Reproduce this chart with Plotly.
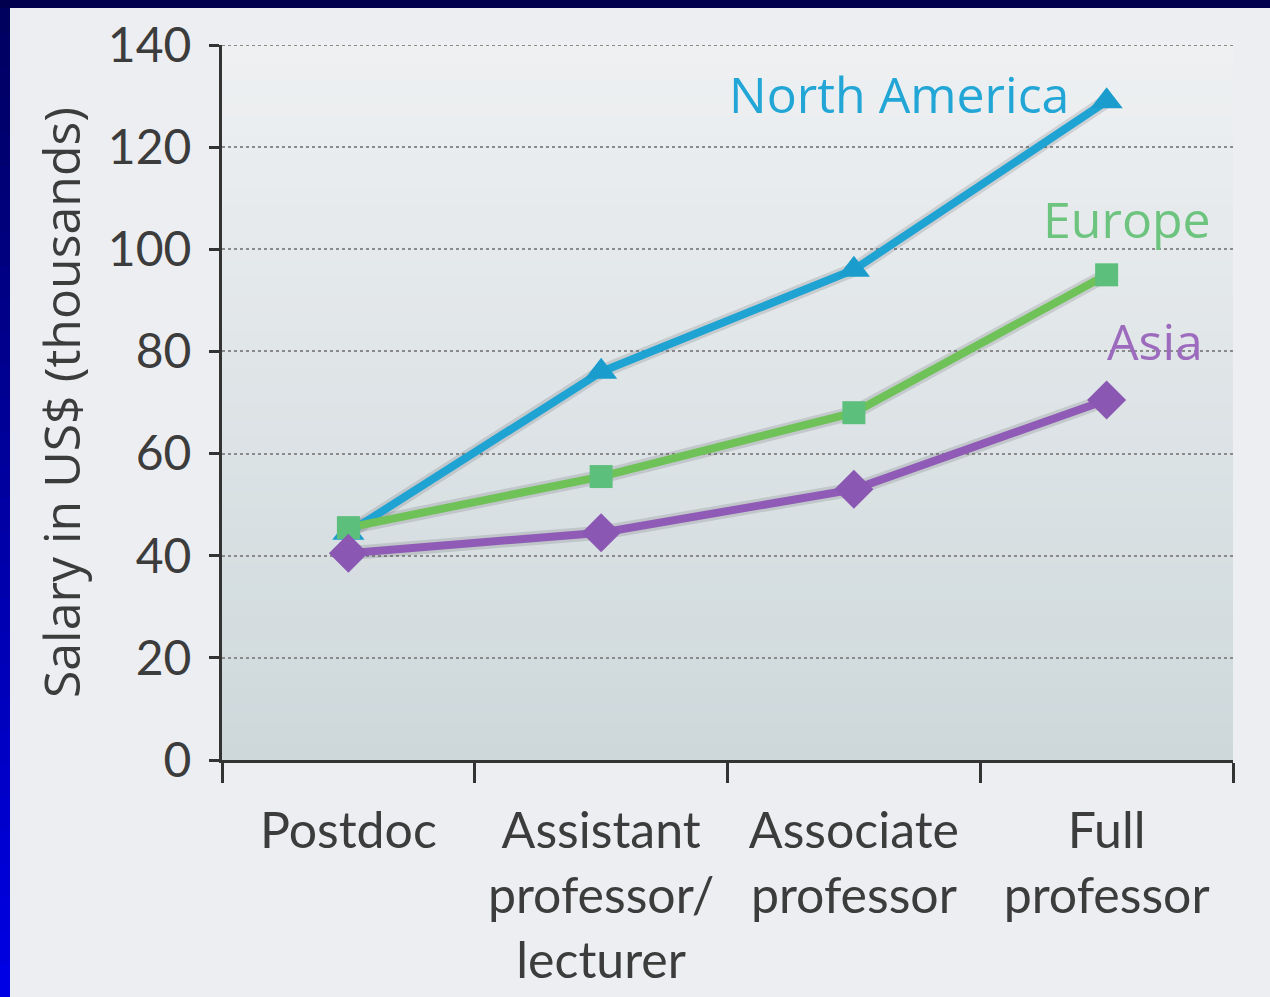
import plotly.graph_objects as go

categories = ["Postdoc", "Assistant<br>professor/<br>lecturer", "Associate<br>professor", "Full<br>professor"]
north_america = [44.5, 76, 96, 129]
europe = [45.5, 55.5, 68, 95]
asia = [40.5, 44.5, 53, 70.5]
y_ticks = [0, 20, 40, 60, 80, 100, 120, 140]

FONT = "Lato"
FONT2 = "Open Sans"
fig = go.Figure()

series = [
    ("North America", north_america, "#1ea3d3", "#1a9ccd", "triangle-up", 28),
    ("Europe", europe, "#6fc257", "#5dbf7c", "square", 23),
    ("Asia", asia, "#8f5bb6", "#8a57b3", "diamond", 30),
]
for name, vals, lc, mc, sym, ms in series:
    fig.add_trace(go.Scatter(x=categories, y=vals, mode="lines", showlegend=False,
                             line=dict(color="rgba(60,60,70,0.16)", width=14), hoverinfo="skip"))
for name, vals, lc, mc, sym, ms in series:
    fig.add_trace(go.Scatter(x=categories, y=vals, mode="lines+markers", name=name, showlegend=False,
                             line=dict(color=lc, width=8),
                             marker=dict(symbol=sym, size=ms, color=mc, line=dict(width=0))))

# background gradient of plot area
shapes = []
N = 40
top = (238, 240, 242)
bot = (206, 216, 219)
for i in range(N):
    t = i / (N - 1)
    c = tuple(int(round(bot[k] + (top[k] - bot[k]) * t)) for k in range(3))
    shapes.append(dict(type="rect", xref="paper", yref="paper", x0=0, x1=1,
                       y0=i / N, y1=(i + 1) / N + 0.002, line=dict(width=0),
                       fillcolor="rgb(%d,%d,%d)" % c, layer="below"))
# top gridline (at range edge)
shapes.append(dict(type="line", xref="paper", yref="y", x0=0, x1=1, y0=y_ticks[-1], y1=y_ticks[-1],
                   line=dict(color="#8a8a8a", width=2, dash="dot"), layer="below"))
# frame
W, H = 1270, 997
l, r, t, b = 222, 37, 45, 237
pw, ph = W - l - r, H - t - b
def px(x):
    return (x - l) / pw
def py(y):
    return 1 - (y - t) / ph
NB = 30
for i in range(NB):
    f = i / (NB - 1)
    c = (0, 0, int(round(95 + (228 - 95) * f)))
    shapes.append(dict(type="rect", xref="paper", yref="paper", x0=px(0), x1=px(10),
                       y0=py(i * H / NB), y1=py((i + 1) * H / NB + 1), line=dict(width=0),
                       fillcolor="rgb(%d,%d,%d)" % c, layer="below"))
shapes.append(dict(type="rect", xref="paper", yref="paper", x0=px(0), x1=px(W),
                   y0=py(8), y1=py(0), line=dict(width=0), fillcolor="#00004f", layer="below"))

annotations = [
    dict(text="North America", x=2.18, y=130.5, font=dict(color="#22a6d6", size=50, family=FONT2)),
    dict(text="Europe", x=3.08, y=106, font=dict(color="#6dc47f", size=50, family=FONT2)),
    dict(text="Asia", x=3.19, y=82, font=dict(color="#9d6bbd", size=50, family=FONT2)),
]
for a in annotations:
    a.update(xref="x", yref="y", showarrow=False)

fig.update_layout(
    width=W, height=H,
    margin=dict(l=l, r=r, t=t, b=b, autoexpand=False),
    paper_bgcolor="#eceef1",
    plot_bgcolor="rgba(0,0,0,0)",
    shapes=shapes,
    annotations=annotations,
    font=dict(family=FONT, color="#3c3c3c"),
)
fig.update_xaxes(
    type="category", range=[-0.5, 3.5], tickson="boundaries", automargin=False,
    ticks="outside", ticklen=20, tickwidth=3, tickcolor="#333",
    showline=True, linecolor="#333", linewidth=3, showgrid=False,
    tickfont=dict(size=50, family=FONT, color="#3c3c3c"), ticklabelstandoff=25,
)
fig.update_yaxes(
    range=[0, 140], tickvals=y_ticks, ticks="outside", ticklen=10, tickwidth=3, tickcolor="#333",
    showline=True, linecolor="#333", linewidth=3, automargin=False,
    showgrid=True, gridcolor="#8a8a8a", griddash="dot", gridwidth=2, zeroline=False,
    tickfont=dict(size=48, family=FONT, color="#3c3c3c"), ticklabelstandoff=8,
    title=dict(text="Salary in US$ (thousands)", font=dict(size=50, family=FONT2, color="#3c3c3c"), standoff=12),
)
fig.write_html("out.html")
